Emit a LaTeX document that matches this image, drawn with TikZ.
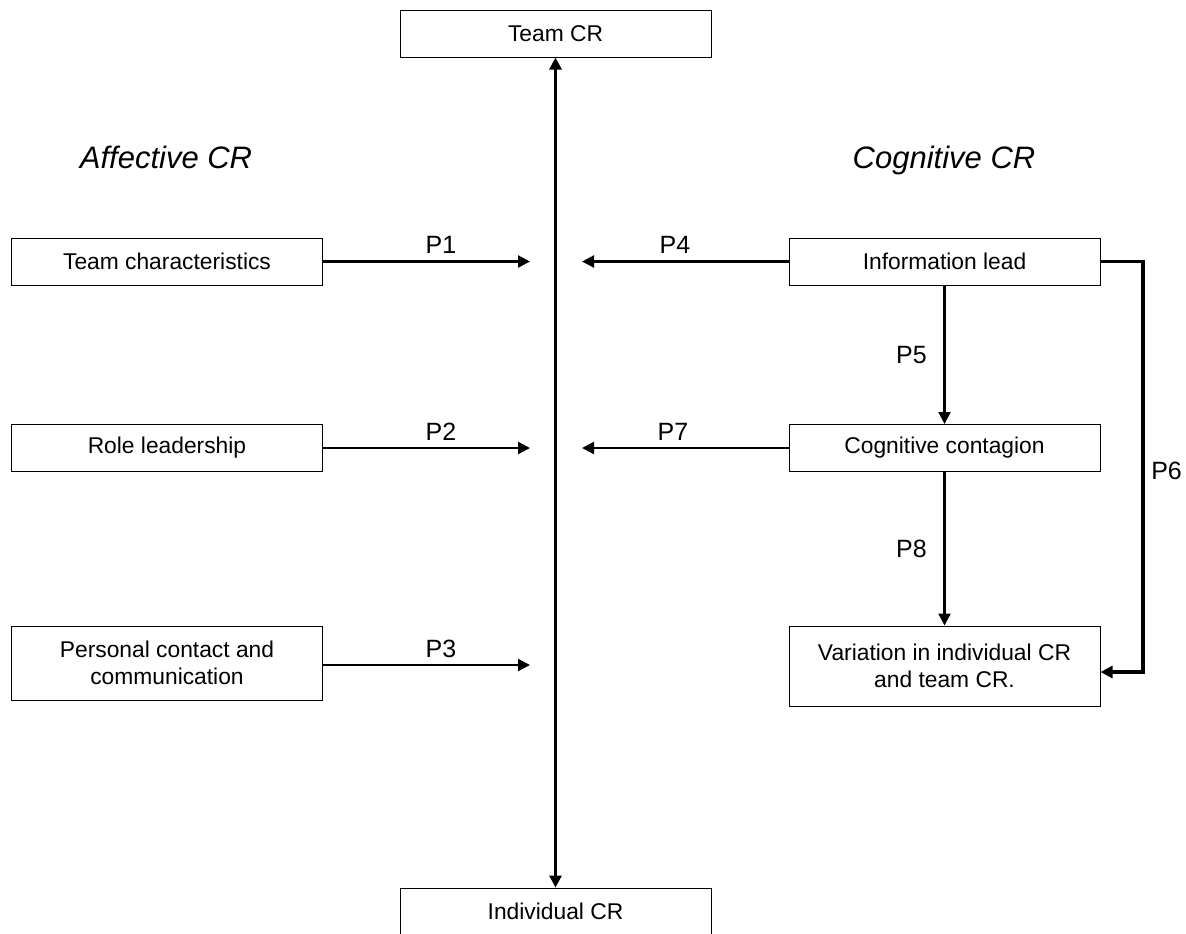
\documentclass[tikz,border=0pt]{standalone}
\usepackage{fontspec}
\setmainfont{Liberation Sans}
\usepackage{tikz}
\usetikzlibrary{arrows.meta}

\begin{document}
\begin{tikzpicture} [
    x=0.5pt, y=-0.5pt,
    box/.style = {draw, line width=0.5pt, minimum width=155.5pt, minimum height=23.5pt,
        inner sep=0pt, align=center, font=\fontsize{11.4}{13.5}\selectfont},
    plabel/.style = {font=\fontsize{12.5}{15}\selectfont},
    head/.style = {font=\fontsize{15.5}{19}\selectfont\itshape, text height=11pt, text depth=3pt},
    link/.style = {line width=1.1pt, -{Triangle[length=6pt,width=6pt]}},
    bold link/.style = {line width=1.6pt, -{Triangle[length=6pt,width=6pt]}}
]
    \useasboundingbox (0,0) rectangle (1186,933);

    % centre axis
    \node[box] (teamcr) at (555.5,33.5) {Team CR};
    \node[box] (indcr) at (555.5,911.5) {Individual CR};
    \draw[line width=1.6pt, {Triangle[length=6pt,width=6pt]}-{Triangle[length=6pt,width=6pt]}] (teamcr) -- (indcr);

    \node[head] (affective) at (166,160) {Affective CR};
    \node[head] (cognitive) at (944,160) {Cognitive CR};

    % affective side
    \node[box] (teamchar) at (167,261.5) {Team characteristics};
    \node[box] (roleld) at (167,448) {Role leadership};
    \node[box, minimum height=37pt] (contact) at (167,663) {Personal contact and\\communication};

    \coordinate (p1end) at (530,261.5);
    \coordinate (p2end) at (530,448);
    \coordinate (p3end) at (530,665);
    \draw[link] (teamchar) -- node[plabel, above, pos=0.57] {P1} (p1end);
    \draw[link] (roleld) -- node[plabel, above, pos=0.57] {P2} (p2end);
    \draw[link] (contact.east |- p3end) -- node[plabel, above, pos=0.57] {P3} (p3end);

    % cognitive side
    \node[box] (infolead) at (944.5,261.5) {Information lead};
    \node[box] (contagion) at (944.5,448) {Cognitive contagion};
    \node[box, minimum height=40pt] (variation) at (944.5,666) {Variation in individual CR\\and team CR.};

    \coordinate (p4end) at (582,261.5);
    \coordinate (p7end) at (582,448);
    \draw[link] (infolead) -- node[plabel, above, pos=0.55] {P4} (p4end);
    \draw[link] (contagion) -- node[plabel, above, pos=0.56] {P7} (p7end);
    \draw[link] (infolead) -- node[plabel, left=5pt] {P5} (contagion);
    \draw[link] (contagion) -- node[plabel, left=5pt] {P8} (variation);

    \coordinate (p6top) at (1143,261.5);
    \coordinate (p6bot) at (1143,672);
    \draw[bold link] (infolead.east) -- (p6top) -- node[plabel, right, pos=0.51] {P6} (p6bot)
        -- ([yshift=-3pt]variation.east);
\end{tikzpicture}
\end{document}
